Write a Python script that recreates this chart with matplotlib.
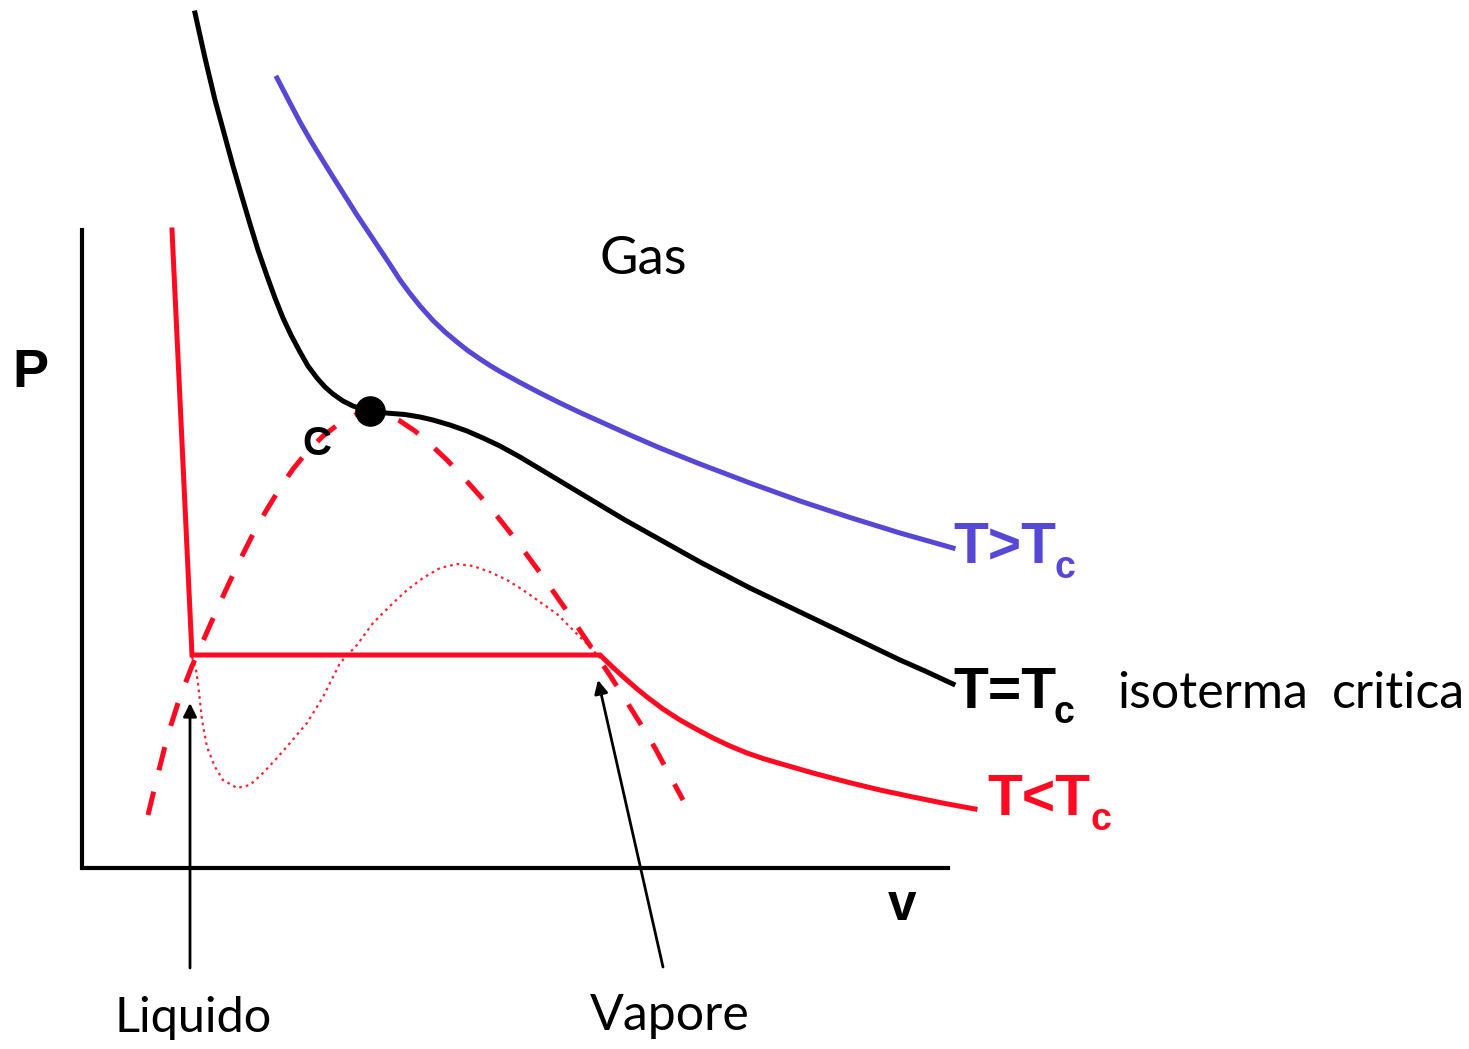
import numpy as np
import matplotlib
matplotlib.use('Agg')
import matplotlib.pyplot as plt

# Curve points (x = v, y = P, picture units, y grows downward)

iso_crit_x = [195, 205, 215, 224, 233, 242, 250, 258, 267, 275, 283, 291, 300, 308, 317, 325, 333, 343,
              353, 362, 370, 380, 392, 405, 420, 433, 450, 467, 483, 500, 520, 540, 560, 580, 600, 625,
              650, 675, 700, 725, 750, 775, 800, 825, 850, 875, 900, 925, 953]
iso_crit_y = [13, 58, 100, 133, 166, 197, 224, 250, 276, 298, 318, 335, 352, 366, 378, 387, 394, 401,
              406, 409, 411, 412.5, 413.5, 414.5, 417, 420, 425, 431, 438, 446, 457, 469, 481, 493, 505, 520,
              534, 548, 562, 575, 588, 600, 612, 624, 636, 648, 660, 671, 684]

iso_hot_x = [277, 290, 300, 310, 320, 333, 345, 357, 367, 378, 390, 400, 410, 420, 433, 445, 457, 467,
             480, 490, 500, 520, 540, 560, 580, 600, 630, 660, 700, 750, 800, 850, 900, 953]
iso_hot_y = [78, 103, 122, 139.5, 156, 177, 196, 215, 230, 246.5, 264.5, 280, 293.5, 306, 320.5, 332, 342, 350,
             359, 365.5, 371.5, 382.5, 393, 403, 412.5, 421.5, 435, 448, 464, 483, 501, 517.5, 533, 548]

iso_cold_x = [172, 192, 600, 612, 624, 636, 647, 663, 680, 697, 713, 730, 747, 763, 780, 813, 847, 880,
              913, 945, 975]
iso_cold_y = [230, 655, 655, 666.5, 677.5, 688, 697, 709, 720, 729.5, 738, 746, 753, 758.5, 763.5, 773, 782, 790,
              797, 803.5, 809]

dome_x = [148, 156, 164, 171, 178, 185, 192, 200, 207, 218, 230, 241, 253, 266, 280, 293, 307, 323, 340,
          355, 370, 385, 400, 415, 430, 447, 463, 480, 497, 512, 527, 541, 555, 569, 583, 597, 611, 625,
          640, 655, 669, 683]
dome_y = [815, 782, 750, 725, 703, 684, 666, 648, 632, 607, 581, 558, 534, 511, 488, 469, 452, 436, 423,
          415, 411, 414, 421, 431, 444, 460, 477, 496, 516, 535, 555, 574, 594, 614, 635, 656, 677, 699,
          723, 748, 774, 800]

vdw_x = [192, 196, 198, 202, 207, 215, 223, 237, 250, 263, 277, 290, 307, 323, 340, 357, 373, 390, 407,
         423, 440, 457, 473, 490, 507, 523, 540, 557, 573, 590, 600]
vdw_y = [657, 670, 683, 720, 747, 767, 780, 788, 785, 773, 758, 743, 723, 697, 663, 645, 623, 606, 590,
         578, 568, 564, 566, 572, 580, 590, 602, 614, 630, 647, 658]

crit_point = (370, 411)

red = '#FF0A20'
blue = '#5747D6'

fig = plt.figure(figsize=(14.69, 10.49), dpi=100)
ax = fig.add_axes([0, 0, 1, 1])
ax.set_xlim(0, 1469)
ax.set_ylim(1049, 0)
ax.axis('off')

# P-v axes
ax.plot([82, 82, 948], [230, 868, 868], color='black', lw=3, solid_joinstyle='miter')

# isotherms
ax.plot(vdw_x, vdw_y, color=red, lw=1.6, ls=(0, (1.2, 1.8)), alpha=0.9)
ax.plot(dome_x, dome_y, color=red, lw=3.6, ls=(0, (4.8, 4.4)))
ax.plot(iso_cold_x, iso_cold_y, color=red, lw=3.6, solid_joinstyle='miter')
ax.plot(iso_hot_x, iso_hot_y, color=blue, lw=3.6)
ax.plot(iso_crit_x, iso_crit_y, color='black', lw=3.6)
ax.plot(*crit_point, 'o', color='black', ms=21)

# arrows
ap = dict(arrowstyle='-|>', color='black', lw=2, mutation_scale=20, shrinkA=0, shrinkB=0)
ax.annotate('', xy=(190, 703), xytext=(190, 968), arrowprops=ap)
ax.annotate('', xy=(598, 680), xytext=(663, 967), arrowprops=ap)

# labels
bold = dict(family='Liberation Sans', weight='bold', va='baseline', ha='left')
reg = dict(family='Lato', va='baseline', ha='left')

ax.text(12, 387, 'P', fontsize=39, **bold)
ax.text(888, 920, 'v', fontsize=37, **bold)
ax.text(302, 455, 'C', fontsize=29, **bold)

ax.text(953, 563, 'T>T', fontsize=41, color=blue, **bold)
ax.text(1055, 578, 'c', fontsize=27, color=blue, **bold)
ax.text(953, 708, 'T=T', fontsize=41, color='black', **bold)
ax.text(1054, 723, 'c', fontsize=27, color='black', **bold)
ax.text(987, 815, 'T<T', fontsize=41, color=red, **bold)
ax.text(1091, 830, 'c', fontsize=27, color=red, **bold)

ax.text(600, 274, 'Gas', fontsize=38, **reg)
ax.text(1117, 708, 'isoterma', fontsize=36, **reg)
ax.text(1332, 708, 'critica', fontsize=36, **reg)
ax.text(115, 1032, 'Liquido', fontsize=35, **reg)
ax.text(590, 1030, 'Vapore', fontsize=36, **reg)

fig.savefig('out.png', dpi=100)
